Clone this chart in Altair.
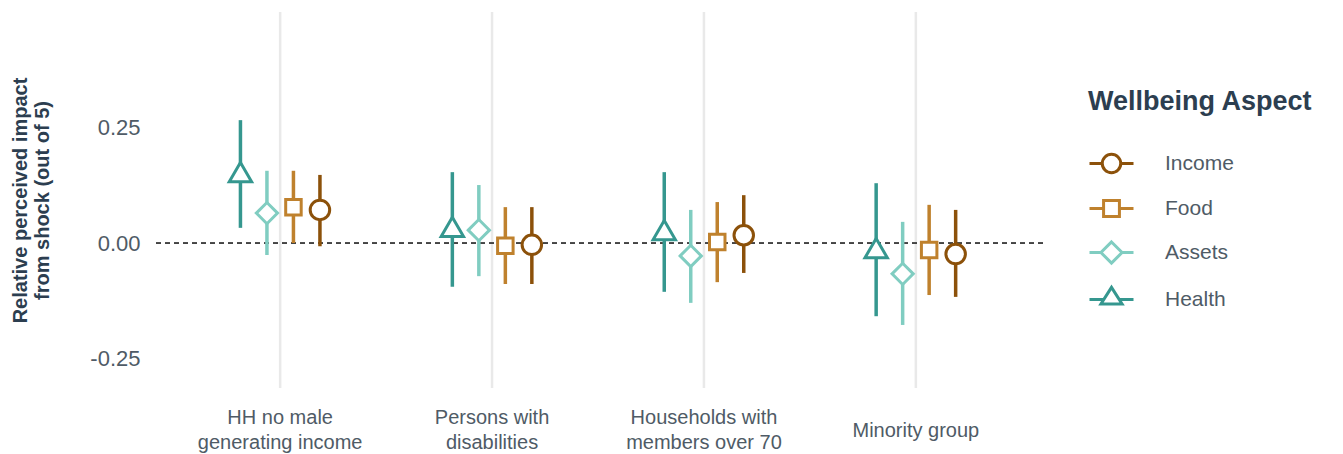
import altair as alt
import pandas as pd

# ---------------- data ----------------
groups = [
    "HH no male\ngenerating income",
    "Persons with\ndisabilities",
    "Households with\nmembers over 70",
    "Minority group",
]
aspects = ["Income", "Food", "Assets", "Health"]
aspect_colors = ["#8c510a", "#bf812d", "#80cdc1", "#35978f"]
dodge_order = ["Health", "Assets", "Food", "Income"]

estimate = {
    "Income": [0.072, -0.004, 0.017, -0.024],
    "Food":   [0.078, -0.006, 0.002, -0.015],
    "Assets": [0.065, 0.028, -0.028, -0.067],
    "Health": [0.154, 0.035, 0.028, -0.011],
}
lower = {
    "Income": [-0.007, -0.089, -0.065, -0.117],
    "Food":   [0.000, -0.089, -0.085, -0.113],
    "Assets": [-0.026, -0.072, -0.130, -0.178],
    "Health": [0.033, -0.095, -0.106, -0.159],
}
upper = {
    "Income": [0.148, 0.078, 0.104, 0.072],
    "Food":   [0.157, 0.078, 0.089, 0.083],
    "Assets": [0.157, 0.126, 0.072, 0.046],
    "Health": [0.267, 0.154, 0.154, 0.130],
}
y_ticks = [-0.25, 0.0, 0.25]

marker_shape = {"Income": "circle", "Food": "square", "Assets": "diamond", "Health": "triangle-up"}
marker_size = {"Income": 380, "Food": 240, "Assets": 450, "Health": 500}

# legend keys: line + hollow marker
legend_paths = [
    "M-1,0L-0.42,0M0.42,0L1,0M0.42,0A0.42,0.42,0,1,1,-0.42,0A0.42,0.42,0,1,1,0.42,0Z",
    "M-1,0L-0.36,0M0.36,0L1,0M-0.36,-0.36L0.36,-0.36L0.36,0.36L-0.36,0.36Z",
    "M-1,0L-0.48,0M0.48,0L1,0M0,-0.48L0.48,0L0,0.48L-0.48,0Z",
    "M-1,0L-0.36,0M0.36,0L1,0M-0.48,0.2L0.48,0.2L0,-0.55Z",
]

rows = []
for a in aspects:
    for i, g in enumerate(groups):
        rows.append({
            "group": g, "aspect": a,
            "estimate": estimate[a][i], "lower": lower[a][i], "upper": upper[a][i],
            "shape": marker_shape[a], "size": marker_size[a],
        })
df = pd.DataFrame(rows)
gdf = pd.DataFrame({"group": groups})

FONT = "Liberation Sans"
LABEL_COLOR = "#4f5b66"
TITLE_COLOR = "#2c3e50"

x_enc = alt.X(
    "group:N", sort=groups,
    scale=alt.Scale(paddingInner=0, paddingOuter=0.1),
    axis=alt.Axis(
        title=None, labelAngle=0, domain=False, ticks=False, tickSize=0, grid=False,
        labelExpr="split(datum.label, '\\n')",
        labelFontSize=20, labelLineHeight=25, labelBaseline="middle",
        labelPadding={"condition": {"test": "indexof(datum.value, '\\n') >= 0", "value": 29}, "value": 42},
        labelColor=LABEL_COLOR, labelFont=FONT,
    ),
)
xoff = alt.XOffset("aspect:N", sort=dodge_order,
                   scale=alt.Scale(paddingInner=0, paddingOuter=0, range=[53, 159]))
y_scale = alt.Scale(domain=[-0.315, 0.502], nice=False, zero=False)
y_axis = alt.Axis(
    values=y_ticks, grid=False, domain=False, ticks=False, tickSize=0,
    labelExpr="(datum.value < 0 ? '-' : '') + format(abs(datum.value), '.2f')",
    labelFontSize=22, labelPadding=13, labelColor=LABEL_COLOR, labelFont=FONT,
    title=["Relative perceived impact", "from shock (out of 5)"],
    titleFontSize=20, titleFontWeight="bold", titleColor=TITLE_COLOR, titleFont=FONT,
    titleX=-133, titleY=188, titleAngle=270, titleAlign="center",
    titleBaseline="middle", titleLineHeight=22,
)
stroke_scale = alt.Scale(domain=aspects, range=aspect_colors)

grid = alt.Chart(gdf).mark_rule(color="#e9e9e9", strokeWidth=2.5).encode(x=x_enc)

zero = alt.Chart(gdf).mark_rule(color="#444444", strokeWidth=1.3, strokeDash=[5, 4]).encode(
    y=alt.datum(0, scale=y_scale, axis=y_axis)
)

bars = alt.Chart(df).mark_rule(strokeWidth=3.5).encode(
    x=x_enc, xOffset=xoff,
    y=alt.Y("lower:Q", scale=y_scale, axis=y_axis),
    y2="upper:Q",
    stroke=alt.Stroke("aspect:N", scale=stroke_scale, legend=None),
)

points = alt.Chart(df).mark_point(filled=True, fill="white", fillOpacity=1, strokeWidth=3, opacity=1).encode(
    x=x_enc, xOffset=xoff,
    y=alt.Y("estimate:Q", scale=y_scale, axis=y_axis),
    stroke=alt.Stroke("aspect:N", scale=stroke_scale, legend=None),
    shape=alt.Shape("shape:N", scale=None),
    size=alt.Size("size:Q", scale=None),
)

legend_props = dict(
    title="Wellbeing Aspect", orient="none", legendX=935, legendY=77,
    titleFontSize=27, titleFontWeight="bold", titleColor=TITLE_COLOR, titleFont=FONT,
    titleLimit=500, labelLimit=300,
    titlePadding=24, labelFontSize=21, labelColor=LABEL_COLOR, labelFont=FONT,
    labelOffset=30, symbolSize=1936, symbolStrokeWidth=3, symbolOpacity=1,
    rowPadding=6, padding=0,
)
legend_layer = alt.Chart(df).mark_point(filled=False, opacity=0, strokeWidth=3).encode(
    x=x_enc, xOffset=xoff,
    y=alt.Y("estimate:Q", scale=y_scale, axis=y_axis),
    color=alt.Color("aspect:N", sort=aspects,
                    scale=alt.Scale(domain=aspects, range=aspect_colors),
                    legend=alt.Legend(**legend_props)),
    shape=alt.Shape("aspect:N", sort=aspects,
                    scale=alt.Scale(domain=aspects, range=legend_paths),
                    legend=alt.Legend(**legend_props)),
)

chart = alt.layer(grid, zero, bars, points, legend_layer).resolve_scale(
    shape="independent", color="independent"
).properties(
    width=890, height=376,
    autosize=alt.AutoSizeParams(type="none"),
    padding={"left": 153, "top": 12, "right": 300, "bottom": 66},
    background="white",
).configure_view(stroke=None)

chart.save("out.html", embed_options={"renderer": "svg", "actions": False})
